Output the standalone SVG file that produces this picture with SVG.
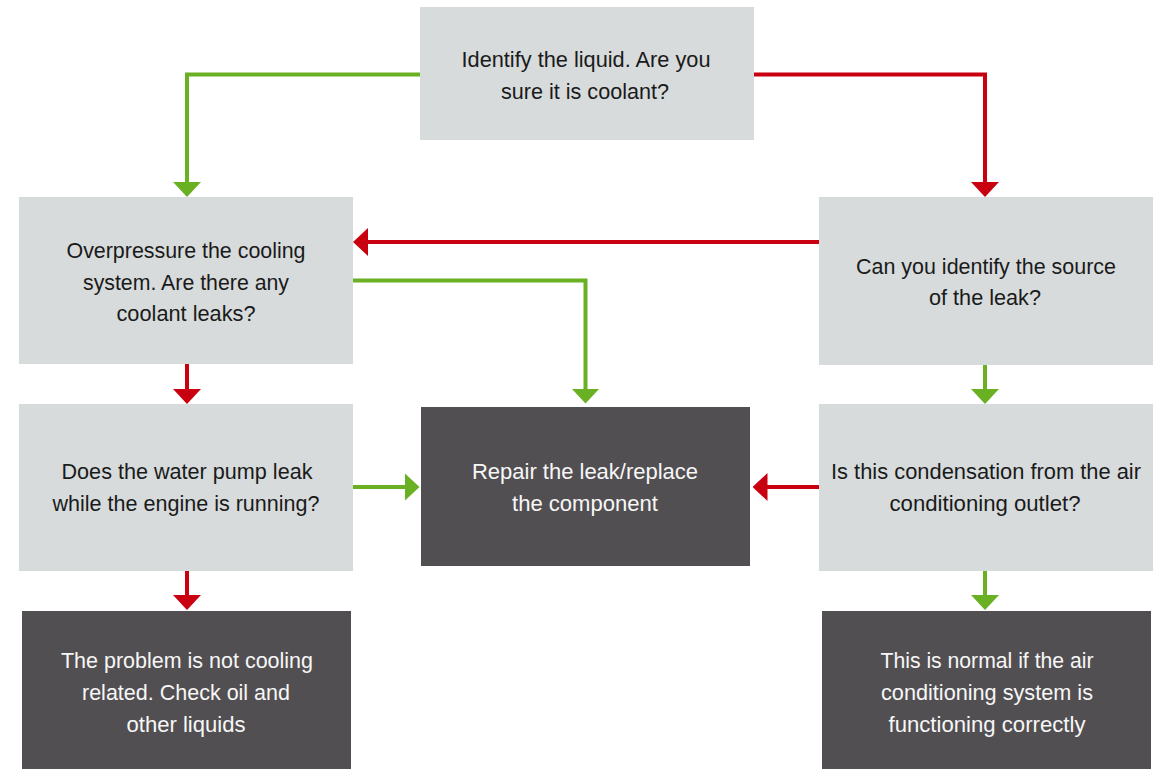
<svg xmlns="http://www.w3.org/2000/svg" width="1168" height="769" viewBox="0 0 1168 769">
<style>
.q{fill:#D7DBDC}
.d{fill:#524F52}
.t{font-family:"Liberation Sans",Arial,sans-serif;font-size:22px;text-anchor:middle;fill:#1A1A1A}
.w{font-family:"Liberation Sans",Arial,sans-serif;font-size:22px;text-anchor:middle;fill:#F7F7F7}
.g{fill:none;stroke:#6AB023;stroke-width:4}
.r{fill:none;stroke:#C8000F;stroke-width:4}
</style>
<defs>
<marker id="ag" viewBox="0 0 15 28" markerWidth="15" markerHeight="28" refX="7" refY="14" markerUnits="userSpaceOnUse" orient="auto"><path d="M0,0 L15,14 L0,28 z" fill="#6AB023"/></marker>
<marker id="ar" viewBox="0 0 15 28" markerWidth="15" markerHeight="28" refX="7" refY="14" markerUnits="userSpaceOnUse" orient="auto"><path d="M0,0 L15,14 L0,28 z" fill="#C8000F"/></marker>
</defs>
<rect width="1168" height="769" fill="#FFFFFF"/>
<g id="connectors">
<path class="g" d="M420,74.5 H187 V189" marker-end="url(#ag)"/>
<path class="r" d="M754,74.5 H985 V189" marker-end="url(#ar)"/>
<path class="r" d="M819,242 H361" marker-end="url(#ar)"/>
<path class="g" d="M353,280.5 H585.5 V395.5" marker-end="url(#ag)"/>
<path class="r" d="M187,364 V396" marker-end="url(#ar)"/>
<path class="g" d="M353,487 H411.5" marker-end="url(#ag)"/>
<path class="r" d="M819,487 H760.5" marker-end="url(#ar)"/>
<path class="r" d="M187,571 V602" marker-end="url(#ar)"/>
<path class="g" d="M985,365 V396" marker-end="url(#ag)"/>
<path class="g" d="M985,571 V602" marker-end="url(#ag)"/>
</g>
<g id="n-identify">
<rect class="q" x="420" y="7" width="334" height="133"/>
<text class="t" x="586" y="67" textLength="249" lengthAdjust="spacingAndGlyphs">Identify the liquid. Are you</text>
<text class="t" x="585" y="99" textLength="168" lengthAdjust="spacingAndGlyphs">sure it is coolant?</text>
</g>
<g id="n-overpressure">
<rect class="q" x="19" y="197" width="334" height="167"/>
<text class="t" x="186" y="258" textLength="239" lengthAdjust="spacingAndGlyphs">Overpressure the cooling</text>
<text class="t" x="186" y="290" textLength="206" lengthAdjust="spacingAndGlyphs">system. Are there any</text>
<text class="t" x="186" y="321" textLength="139" lengthAdjust="spacingAndGlyphs">coolant leaks?</text>
</g>
<g id="n-source">
<rect class="q" x="819" y="197" width="334" height="168"/>
<text class="t" x="986" y="274" textLength="260" lengthAdjust="spacingAndGlyphs">Can you identify the source</text>
<text class="t" x="985" y="305" textLength="112" lengthAdjust="spacingAndGlyphs">of the leak?</text>
</g>
<g id="n-pump">
<rect class="q" x="19" y="404" width="334" height="167"/>
<text class="t" x="187" y="479" textLength="251" lengthAdjust="spacingAndGlyphs">Does the water pump leak</text>
<text class="t" x="186" y="511" textLength="267" lengthAdjust="spacingAndGlyphs">while the engine is running?</text>
</g>
<g id="n-repair">
<rect class="d" x="421" y="407" width="329" height="159"/>
<text class="w" x="585" y="479" textLength="226" lengthAdjust="spacingAndGlyphs">Repair the leak/replace</text>
<text class="w" x="585" y="511" textLength="146" lengthAdjust="spacingAndGlyphs">the component</text>
</g>
<g id="n-condensation">
<rect class="q" x="819" y="404" width="334" height="167"/>
<text class="t" x="986" y="479" textLength="310" lengthAdjust="spacingAndGlyphs">Is this condensation from the air</text>
<text class="t" x="985" y="511" textLength="191" lengthAdjust="spacingAndGlyphs">conditioning outlet?</text>
</g>
<g id="n-notcooling">
<rect class="d" x="22" y="611" width="329" height="158"/>
<text class="w" x="187" y="668" textLength="252" lengthAdjust="spacingAndGlyphs">The problem is not cooling</text>
<text class="w" x="186" y="700" textLength="208" lengthAdjust="spacingAndGlyphs">related. Check oil and</text>
<text class="w" x="186" y="732" textLength="119" lengthAdjust="spacingAndGlyphs">other liquids</text>
</g>
<g id="n-normal">
<rect class="d" x="822" y="611" width="329" height="158"/>
<text class="w" x="987" y="668" textLength="213" lengthAdjust="spacingAndGlyphs">This is normal if the air</text>
<text class="w" x="987" y="700" textLength="212" lengthAdjust="spacingAndGlyphs">conditioning system is</text>
<text class="w" x="987" y="732" textLength="197" lengthAdjust="spacingAndGlyphs">functioning correctly</text>
</g>
</svg>
